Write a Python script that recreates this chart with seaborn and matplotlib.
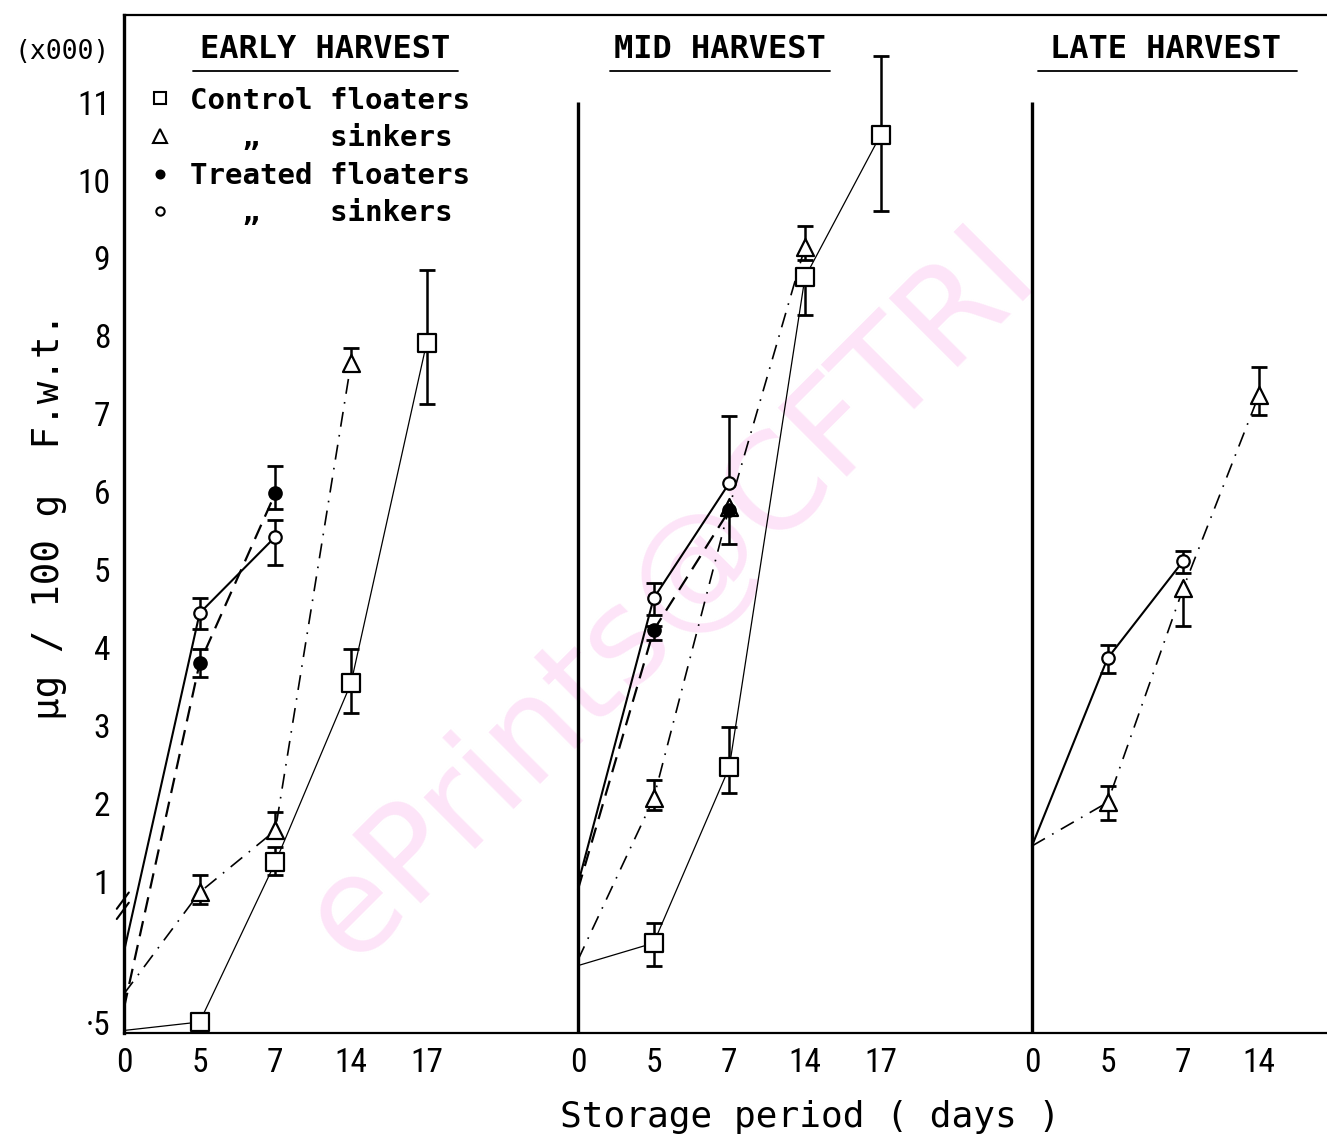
import numpy as np
import pandas as pd
import matplotlib
matplotlib.use("Agg")
import matplotlib.pyplot as plt
from matplotlib import font_manager
from matplotlib.lines import Line2D
import seaborn as sns

# ---------------- data (values in thousands) ----------------
panel_titles = ["EARLY HARVEST", "MID HARVEST", "LATE HARVEST"]
panel_offsets = [0, 6, 12]
day_slot = {0: 0, 5: 1, 7: 2, 14: 3, 17: 4}
panel_days = [[0, 5, 7, 14, 17], [0, 5, 7, 14, 17], [0, 5, 7, 14]]

series_names = ["Control floaters", "Control sinkers", "Treated floaters", "Treated sinkers"]

# Early harvest
early_cf_days = [0, 5, 7, 14, 17]
early_cf = [0.47, 0.50, 1.24, 3.54, 7.91]
early_cf_lo = [0, 0, 0.16, 0.38, 0.79]
early_cf_hi = [0, 0, 0.20, 0.44, 0.93]

early_cs_days = [0, 5, 7, 14]
early_cs = [0.60, 0.96, 1.65, 7.65]
early_cs_lo = [0, 0.04, 0, 0]
early_cs_hi = [0, 0.12, 0.24, 0.19]

early_tf_days = [0, 5, 7]
early_tf = [0.55, 3.80, 5.98]
early_tf_lo = [0, 0.18, 0.20]
early_tf_hi = [0, 0.18, 0.35]

early_ts_days = [0, 5, 7]
early_ts = [0.75, 4.44, 5.42]
early_ts_lo = [0, 0.20, 0.36]
early_ts_hi = [0, 0.19, 0.21]

# Mid harvest
mid_cf_days = [0, 5, 7, 14, 17]
mid_cf = [0.70, 0.78, 2.46, 8.75, 10.58]
mid_cf_lo = [0, 0.08, 0.33, 0.48, 0.98]
mid_cf_hi = [0, 0.07, 0.52, 0, 1.01]

mid_cs_days = [0, 5, 7, 14]
mid_cs = [0.72, 2.06, 5.80, 9.14]
mid_cs_lo = [0, 0.15, 0, 0.17]
mid_cs_hi = [0, 0.24, 0, 0.27]

mid_tf_days = [0, 5, 7]
mid_tf = [0.97, 4.22, 5.76]
mid_tf_lo = [0, 0.13, 0.43]
mid_tf_hi = [0, 0.05, 0]

mid_ts_days = [0, 5, 7]
mid_ts = [0.99, 4.63, 6.11]
mid_ts_lo = [0, 0.22, 0]
mid_ts_hi = [0, 0.20, 0.86]

# Late harvest
late_cs_days = [0, 5, 7, 14]
late_cs = [1.45, 2.01, 4.76, 7.24]
late_cs_lo = [0, 0.23, 0.49, 0.26]
late_cs_hi = [0, 0.21, 0, 0.36]

late_ts_days = [0, 5, 7]
late_ts = [1.45, 3.86, 5.11]
late_ts_lo = [0, 0.19, 0.16]
late_ts_hi = [0, 0.17, 0.13]

y_ticks = [0.5, 1, 2, 3, 4, 5, 6, 7, 8, 9, 10, 11]
y_tick_labels = ["\u00b75", "1", "2", "3", "4", "5", "6", "7", "8", "9", "10", "11"]

# ---------------- assemble ----------------
rows = []
def add(panel, series, days, vals, lo, hi):
    for d, v, l, h in zip(days, vals, lo, hi):
        rows.append(dict(panel=panel, series=series, day=d, value=v, lo=l, hi=h,
                         pos=panel_offsets[panel] + day_slot[d]))

add(0, "Control floaters", early_cf_days, early_cf, early_cf_lo, early_cf_hi)
add(0, "Control sinkers", early_cs_days, early_cs, early_cs_lo, early_cs_hi)
add(0, "Treated floaters", early_tf_days, early_tf, early_tf_lo, early_tf_hi)
add(0, "Treated sinkers", early_ts_days, early_ts, early_ts_lo, early_ts_hi)
add(1, "Control floaters", mid_cf_days, mid_cf, mid_cf_lo, mid_cf_hi)
add(1, "Control sinkers", mid_cs_days, mid_cs, mid_cs_lo, mid_cs_hi)
add(1, "Treated floaters", mid_tf_days, mid_tf, mid_tf_lo, mid_tf_hi)
add(1, "Treated sinkers", mid_ts_days, mid_ts, mid_ts_lo, mid_ts_hi)
add(2, "Control sinkers", late_cs_days, late_cs, late_cs_lo, late_cs_hi)
add(2, "Treated sinkers", late_ts_days, late_ts, late_ts_lo, late_ts_hi)
df = pd.DataFrame(rows)

line_style = {
    "Control floaters": dict(linestyle="-", lw=0.9),
    "Control sinkers": dict(linestyle=(0, (9, 5, 1, 5)), lw=1.2),
    "Treated floaters": dict(linestyle=(0, (7, 4)), lw=1.6),
    "Treated sinkers": dict(linestyle="-", lw=1.5),
}
marker_style = {
    "Control floaters": dict(marker="s", s=150, color="white"),
    "Control sinkers": dict(marker="^", s=150, color="white"),
    "Treated floaters": dict(marker="o", s=80, color="black"),
    "Treated sinkers": dict(marker="o", s=80, color="white"),
}

# ---------------- fonts ----------------
names = {f.name for f in font_manager.fontManager.ttflist}
def pick(cands, default):
    for c in cands:
        if c in names:
            return c
    return default
narrow = pick(["Liberation Sans Narrow", "Roboto Condensed", "Open Sans Condensed"], "DejaVu Sans")
mono = pick(["DejaVu Sans Mono", "Liberation Mono"], "DejaVu Sans")

sns.set_style("white")
plt.rcParams["font.family"] = ["DejaVu Sans"]
plt.rcParams.update({"text.color": "black", "axes.labelcolor": "black",
                     "xtick.color": "black", "ytick.color": "black",
                     "axes.edgecolor": "black"})

# broken y scale: linear above 1, stretched below 1
K = 3.62
def fwd(v):
    v = np.asarray(v, dtype=float)
    return np.where(v >= 1, v, 1 - (1 - v) * K)
def inv(u):
    u = np.asarray(u, dtype=float)
    return np.where(u >= 1, u, 1 - (1 - u) / K)

W, H = 1327, 1139
fig = plt.figure(figsize=(W / 100, H / 100), dpi=100)
ax = fig.add_axes([124 / W, 1 - 1033 / H, 1203 / W, (1033 - 15) / H])
ax.set_yscale("function", functions=(fwd, inv))

for (p, s), g in df.groupby(["panel", "series"], sort=False):
    g = g.sort_values("pos")
    sns.lineplot(x=g["pos"].to_numpy(), y=g["value"].to_numpy(), ax=ax, color="black",
                 sort=False, estimator=None, legend=False, zorder=2, **line_style[s])
    m = g[g["day"] != 0]
    has_err = m[(m["lo"] > 0) | (m["hi"] > 0)]
    if len(has_err):
        ax.errorbar(has_err["pos"], has_err["value"],
                    yerr=[has_err["lo"].to_numpy(), has_err["hi"].to_numpy()],
                    fmt="none", ecolor="black", elinewidth=1.8, capsize=0, zorder=2.5)
    up = m[m["hi"] > 0]
    dn = m[m["lo"] > 0]
    ax.scatter(up["pos"], up["value"] + up["hi"], marker="_", s=120, color="black",
               linewidths=2.0, zorder=2.6)
    ax.scatter(dn["pos"], dn["value"] - dn["lo"], marker="_", s=120, color="black",
               linewidths=2.0, zorder=2.6)
    ms = marker_style[s]
    sns.scatterplot(x=m["pos"].to_numpy(), y=m["value"].to_numpy(), ax=ax,
                    marker=ms["marker"], s=ms["s"], color=ms["color"],
                    edgecolor="black", linewidth=1.6, zorder=4, legend=False)

# axes limits and spines
ax.set_xlim(0, 15.9)
ax.set_ylim(0.461, 12.12)
ax.spines["right"].set_visible(False)
for side in ["left", "bottom", "top"]:
    ax.spines[side].set_color("black")
ax.spines["left"].set_linewidth(2.4)
ax.spines["bottom"].set_linewidth(1.6)
ax.spines["top"].set_linewidth(1.6)
ax.vlines([6, 12], 0.461, 11, color="black", lw=2.4, zorder=1)

# ticks
xt_pos, xt_lab = [], []
for p, days in enumerate(panel_days):
    for d in days:
        xt_pos.append(panel_offsets[p] + day_slot[d])
        xt_lab.append(str(d))
ax.set_xticks(xt_pos, xt_lab)
ax.set_yticks(y_ticks, y_tick_labels)
ax.minorticks_off()
ax.tick_params(axis="x", direction="in", length=8, width=1.5, pad=10, colors="black",
               labelsize=24, labelfontfamily=narrow)
ax.tick_params(axis="y", direction="out", length=6, width=1.5, pad=4, colors="black",
               labelsize=24, labelfontfamily=narrow)

# axis labels
ax.set_xlabel("Storage period ( days )", fontsize=26, family=mono, color="black")
ax.xaxis.label.set_va("center")
ax.xaxis.set_label_coords(0.570, -0.0825)
ax.set_ylabel("\u03bcg / 100 g  F.w.t.", fontsize=27, family=mono, color="black")
ax.yaxis.label.set_va("center")
ax.yaxis.set_label_coords(-0.062, 0.507)

# break marks on y axis
for dy in (0.0, 0.010):
    ax.add_line(Line2D([-0.006, 0.004], [0.112 + dy, 0.128 + dy], transform=ax.transAxes,
                       color="black", lw=1.5, clip_on=False))

# panel titles with underlines
title_cx = [325, 720, 1166]
title_ul = [(193, 458), (610, 830), (1038, 1297)]
for t, cx, (x0, x1) in zip(panel_titles, title_cx, title_ul):
    fig.text(cx / W, 1 - 50 / H, t, ha="center", va="center", fontsize=23,
             family=mono, fontweight="bold", color="black")
    fig.add_artist(Line2D([x0 / W, x1 / W], [1 - 71 / H, 1 - 71 / H], color="black", lw=1.3))
fig.text(62 / W, 1 - 52 / H, "(x000)", ha="center", va="center", fontsize=19, family=mono,
         color="black")

# legend
handles = [
    Line2D([], [], ls="none", marker="s", ms=9, mfc="white", mec="black", mew=1.5),
    Line2D([], [], ls="none", marker="^", ms=10, mfc="white", mec="black", mew=1.5),
    Line2D([], [], ls="none", marker="o", ms=6, mfc="black", mec="black", mew=1.2),
    Line2D([], [], ls="none", marker="o", ms=6, mfc="white", mec="black", mew=1.5),
]
labels = ["Control floaters", "   \u201e    sinkers", "Treated floaters", "   \u201e    sinkers"]
leg = ax.legend(handles, labels, loc="upper left", bbox_to_anchor=(0.006, 0.944),
                frameon=False, handlelength=1.0, handletextpad=0.5, borderpad=0,
                labelspacing=0.33, prop=dict(family=mono, weight="bold", size=21))
for txt in leg.get_texts():
    txt.set_color("black")

# watermark
ax.text(670 / W, 1 - 595 / H, "ePrints@CFTRI", transform=fig.transFigure, rotation=45,
        rotation_mode="anchor", ha="center", va="center", fontsize=96,
        color="#fde4f8", zorder=0, clip_on=False)

fig.savefig("out.png", dpi=100)
